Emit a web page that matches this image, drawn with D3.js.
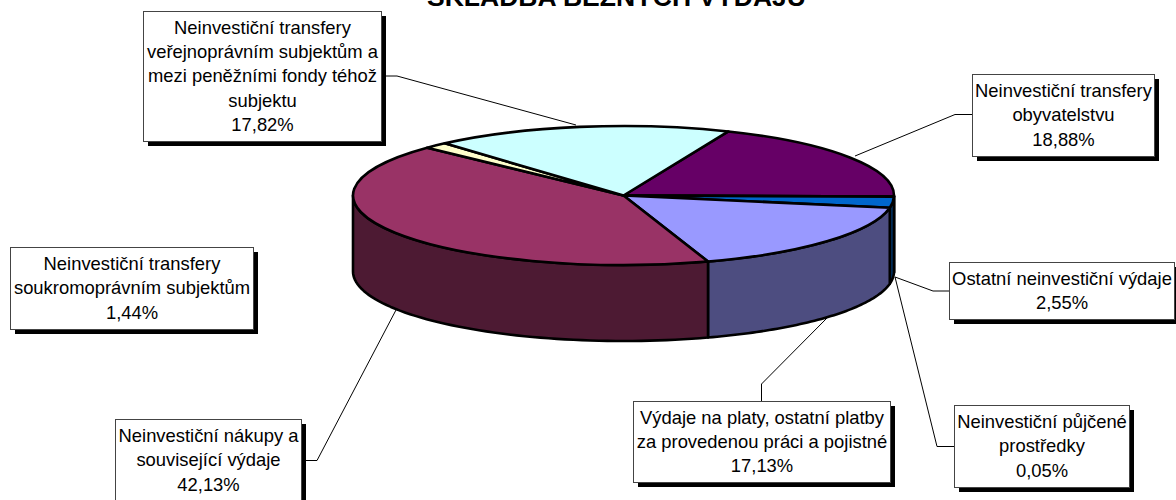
<!DOCTYPE html>
<html><head><meta charset="utf-8">
<script src="https://cdn.jsdelivr.net/npm/d3@7"></script>
<style>html,body{margin:0;padding:0;background:#fff;overflow:hidden}svg{display:block}
text{font-family:"Liberation Sans",Arial,sans-serif;fill:#000}</style></head>
<body><svg id="c" width="1176" height="500"></svg>
<script>
// Data, clockwise from the pie's starting angle
const categories = ["Neinvestiční transfery obyvatelstvu","Neinvestiční půjčené prostředky","Ostatní neinvestiční výdaje","Výdaje na platy, ostatní platby za provedenou práci a pojistné","Neinvestiční nákupy a související výdaje","Neinvestiční transfery soukromoprávním subjektům","Neinvestiční transfery veřejnoprávním subjektům a mezi peněžními fondy téhož subjektu"];
const values = [18.88,0.05,2.55,17.13,42.13,1.44,17.82];
const valueLabels = ["18,88%","0,05%","2,55%","17,13%","42,13%","1,44%","17,82%"];
const labelLines = [["Neinvestiční transfery","obyvatelstvu"],["Neinvestiční půjčené","prostředky"],["Ostatní neinvestiční výdaje"],["Výdaje na platy, ostatní platby","za provedenou práci a pojistné"],["Neinvestiční nákupy a","související výdaje"],["Neinvestiční transfery","soukromoprávním subjektům"],["Neinvestiční transfery","veřejnoprávním subjektům a","mezi peněžními fondy téhož","subjektu"]];
const topColors = ["#660066","#FF8080","#0066CC","#9999FF","#993366","#FFFFCC","#CCFFFF"];
const sideColors = ["#330033","#804040","#003366","#4D4D80","#4D1A33","#808066","#668080"];
const titleText = "SKLADBA BĚŽNÝCH VÝDAJŮ";

// Layout
const W=1176,H=500, cx=623.5, cy=195.5, rx=270.5, ry=69.5, depth=76, startDeg=22.8;
const boxes=[[972,74,182,82],[954,405,175,82],[949,262,225,57],[633,401,257,81],[115,419,186,82],[10,247,243,82],[143,11,238,130]];
const leaders=[[[972,114.5],[955,114.5],[855,156]],[[954,446.5],[937,446.5],[895,277]],[[949,291],[933,291],[895,277]],[[761.5,401],[761.5,384],[827,318]],[[301,460.5],[317,460.5],[396,310]],null,[[381,76],[397,76],[576,125]]];

const svg=d3.select("#c");
const pie=d3.pie().sort(null).value(d=>d).startAngle(startDeg*Math.PI/180).endAngle((startDeg+360)*Math.PI/180);
const arcs=pie(values);
const px=a=>cx+rx*Math.sin(a), py=a=>cy-ry*Math.cos(a);
const lineGen=d3.line();

// Leaders sit under the pie
svg.append("g").selectAll("path").data(leaders.filter(Boolean)).join("path")
  .attr("d",d=>lineGen(d)).attr("fill","none").attr("stroke","#000").attr("stroke-width",1);

// Side walls: only the front half of the rim (90°..270°)
const wallG=svg.append("g");
arcs.forEach((d,i)=>{
  const a0=Math.max(d.startAngle,Math.PI/2), a1=Math.min(d.endAngle,3*Math.PI/2);
  if(a1<=a0) return;
  const ts=d3.range(0,61).map(k=>a0+(a1-a0)*k/60);
  const pts=ts.map(t=>[px(t),py(t)]).concat(ts.slice().reverse().map(t=>[px(t),py(t)+depth]));
  wallG.append("path").attr("d",lineGen(pts)+"Z").attr("fill",sideColors[i])
    .attr("stroke","#000").attr("stroke-width",2.6).attr("stroke-linejoin","round");
});

// Top face: d3.arc squashed into an ellipse
const arcGen=d3.arc().innerRadius(0).outerRadius(rx);
svg.append("g").attr("transform",`translate(${cx},${cy}) scale(1,${ry/rx})`)
  .selectAll("path").data(arcs).join("path").attr("d",arcGen)
  .attr("fill",(d,i)=>topColors[i]).attr("stroke","#000").attr("stroke-width",2.6)
  .attr("stroke-linejoin","round").attr("vector-effect","non-scaling-stroke");

// Labels
const lh=24.3, fs=18.4;
const lab=svg.append("g");
categories.forEach((c,i)=>{
  const [x,y,w,h]=boxes[i];
  const g=lab.append("g");
  g.append("rect").attr("x",x+5).attr("y",y+5).attr("width",w).attr("height",h).attr("fill","#000");
  g.append("rect").attr("x",x+.5).attr("y",y+.5).attr("width",w).attr("height",h).attr("fill","#fff").attr("stroke","#444").attr("stroke-width",1);
  const lines=labelLines[i].concat(valueLabels[i]);
  const y0=y+h/2-(lines.length-1)*lh/2;
  g.selectAll("text").data(lines).join("text").attr("x",x+w/2+.5).attr("y",(d,k)=>y0+k*lh)
    .attr("dy","0.35em").attr("text-anchor","middle").attr("font-size",fs).text(d=>d);
});
svg.append("text").attr("x",616.5).attr("y",5.5).attr("text-anchor","middle").attr("font-size",26.5).attr("font-weight","bold").text(titleText);
</script></body></html>
